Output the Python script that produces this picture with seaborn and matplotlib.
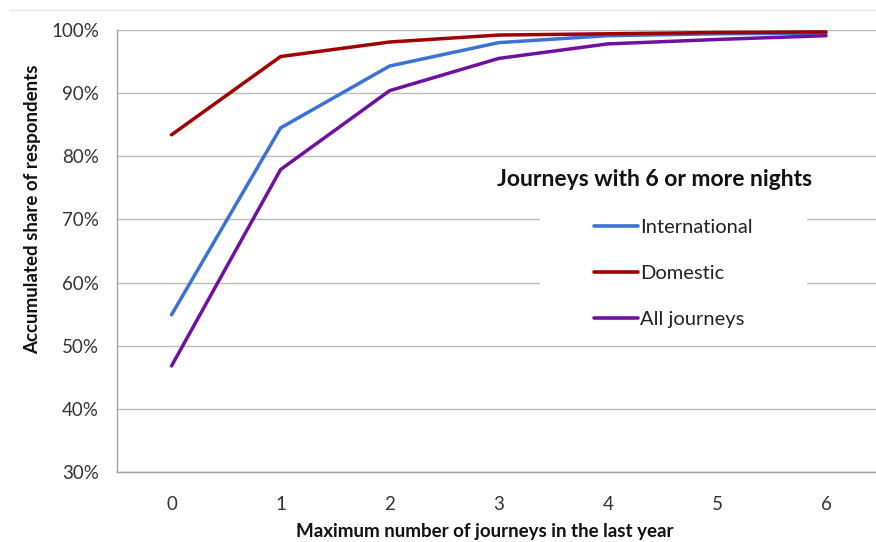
import matplotlib
matplotlib.use("Agg")
import matplotlib.pyplot as plt
import seaborn as sns
import pandas as pd
from matplotlib.patches import Rectangle
from matplotlib.lines import Line2D

journeys = [0, 1, 2, 3, 4, 5, 6]
international = [54.9, 84.5, 94.3, 98.0, 99.1, 99.4, 99.5]
domestic = [83.4, 95.8, 98.1, 99.2, 99.4, 99.6, 99.7]
all_journeys = [46.8, 77.9, 90.4, 95.5, 97.8, 98.5, 99.1]
series_names = ["International", "Domestic", "All journeys"]
colors = ["#3A72D8", "#A00000", "#7010A0"]
y_ticks = [30, 40, 50, 60, 70, 80, 90, 100]

df = pd.DataFrame({
    "x": journeys * 3,
    "y": international + domestic + all_journeys,
    "series": [series_names[0]] * 7 + [series_names[1]] * 7 + [series_names[2]] * 7,
})

sns.set_style("white")
plt.rcParams["font.family"] = ["Lato", "DejaVu Sans"]

W, H = 876, 542
fig = plt.figure(figsize=(W / 100, H / 100), dpi=100)
ax = fig.add_axes([117 / W, 1 - 472 / H, (880.5 - 117) / W, (472 - 30) / H])

sns.lineplot(data=df, x="x", y="y", hue="series", hue_order=series_names,
             palette=colors, linewidth=2.5, ax=ax, legend=False, zorder=3)

ax.set_xlim(-0.5, 6.5)
ax.set_ylim(30, 100)
ax.set_yticks(y_ticks)
ax.set_yticklabels([f"{v}%" for v in y_ticks], fontsize=13.5, color="#333333")
ax.set_xticks(journeys)
ax.set_xticklabels([str(v) for v in journeys], fontsize=13.5, color="#333333")
ax.set_xticks([i - 0.5 for i in range(8)], minor=True)
ax.tick_params(axis="x", which="major", length=0, pad=17)
ax.tick_params(axis="x", which="minor", length=6, color="#A0A0A0", width=1)
ax.tick_params(axis="y", which="major", length=6, color="#A0A0A0", width=1, pad=7)

ax.grid(axis="y", color="#BBBBBB", linewidth=1, zorder=0)
ax.set_axisbelow(True)
for s in ["top", "right"]:
    ax.spines[s].set_visible(False)
for s in ["left", "bottom"]:
    ax.spines[s].set_color("#A0A0A0")
    ax.spines[s].set_linewidth(1)

ax.set_xlabel("Maximum number of journeys in the last year", fontsize=13.5,
              fontweight="bold", color="#111111", va="center")
ax.set_ylabel("Accumulated share of respondents", fontsize=13.5,
              fontweight="bold", color="#111111", va="center")
# place labels where the reference has them (pixel positions)
ax.xaxis.set_label_coords(485 / W, 1 - 531 / H, transform=fig.transFigure)
ax.yaxis.set_label_coords(33 / W, 1 - 209 / H, transform=fig.transFigure)

# white legend area covering gridlines
fig.patches.append(Rectangle((540 / W, 1 - 340 / H), (807 - 540) / W, (340 - 160) / H,
                             transform=fig.transFigure, facecolor="white",
                             edgecolor="none", zorder=2))
fig.text(654.5 / W, 1 - 180 / H, "Journeys with 6 or more nights", fontsize=16.5,
         fontweight="bold", ha="center", va="center", color="#111111", zorder=5)

handles = [Line2D([0], [0], color=c, linewidth=2.6) for c in colors]
leg = fig.legend(handles, series_names, loc="upper left",
                 bbox_to_anchor=(584 / W, 1 - 209 / H), frameon=False,
                 fontsize=14.5, handlelength=2.2, handletextpad=0.1,
                 labelspacing=1.42, borderpad=0)
for t in leg.get_texts():
    t.set_color("#222222")
leg.set_zorder(5)

# faint chart border on top
fig.add_artist(Line2D([9 / W, 1], [1 - 10 / H, 1 - 10 / H], transform=fig.transFigure,
                      color="#E6E6E6", linewidth=1))

fig.savefig("out.png", dpi=100, facecolor="white")
